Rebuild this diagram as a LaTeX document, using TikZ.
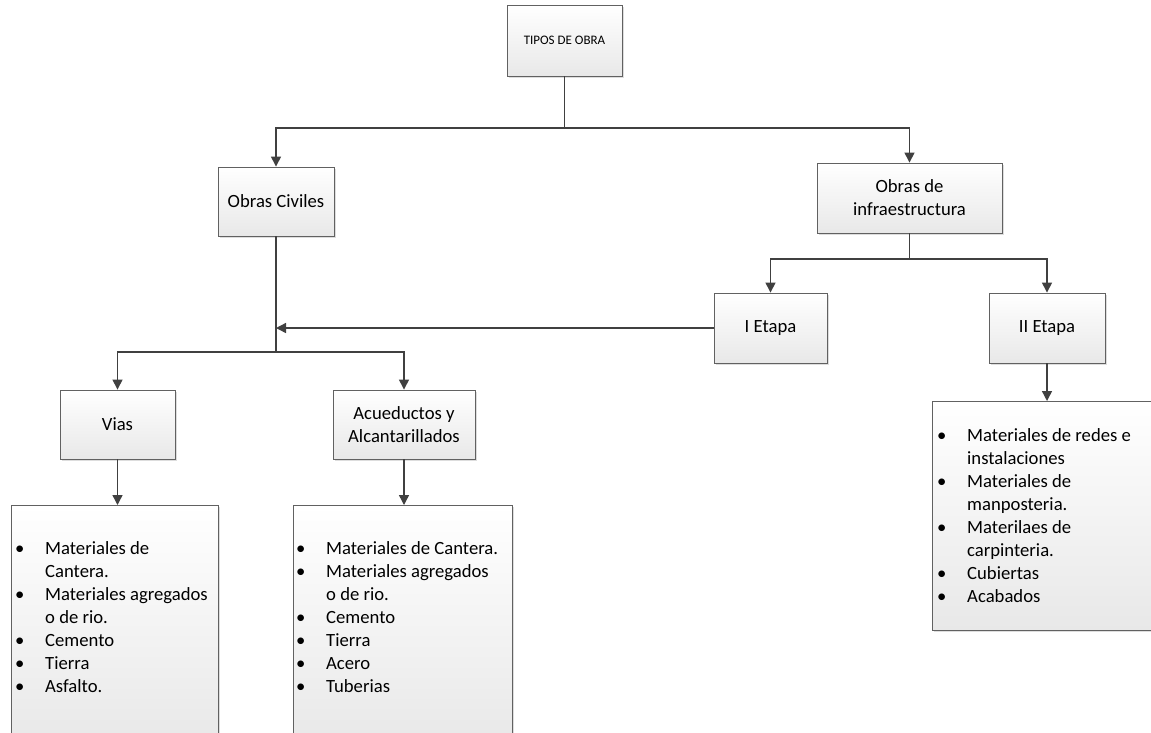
\documentclass[tikz,border=0pt]{standalone}
\usepackage{fontspec}
\setmainfont{Carlito}
\usetikzlibrary{arrows.meta,shadows}

% list helpers: bullet line and continuation line
\newcommand\bitem[1]{\makebox[29pt][l]{\hspace*{-1pt}•}#1}
\newcommand\citem[1]{\hspace*{29pt}#1}

\tikzset{
  box/.style={draw=black!62, line width=0.9pt, top color=white, bottom color=black!9,
    drop shadow={shadow xshift=2pt, shadow yshift=-2pt, fill=black!22, opacity=0.6},
    inner sep=0pt, align=center,
    font=\fontsize{18.67}{23}\selectfont},
  listbox/.style={draw=black!62, line width=0.9pt, top color=white, bottom color=black!9,
    drop shadow={shadow xshift=2pt, shadow yshift=-2pt, fill=black!22, opacity=0.6}},
  listtext/.style={anchor=base west, inner sep=0pt,
    font=\fontsize{18.67}{23}\selectfont},
  link/.style={draw=black!75, line width=1.4pt},
  arr/.style={link, -{Triangle[length=10pt, width=10pt]}}
}

\begin{document}
\begin{tikzpicture}[x=1pt, y=-1pt]
\useasboundingbox (0,0) rectangle (1151,732);
\clip (0,0) rectangle (1151,732);
\fill[white] (0,0) rectangle (1151,732);

% main boxes
\node[box, minimum width=115pt, minimum height=71pt, font=\fontsize{13}{15}\selectfont]
  (top) at (564.5,40.5) {TIPOS DE OBRA};
\node[box, minimum width=116pt, minimum height=69pt] (civ) at (276,201.5) {Obras Civiles};
\node[box, minimum width=185pt, minimum height=70pt] (inf) at (909.5,198) {Obras de\\infraestructura};
\node[box, minimum width=113pt, minimum height=70pt] (e1) at (770.5,328) {I Etapa};
\node[box, minimum width=116pt, minimum height=70pt] (e2) at (1047,328) {II Etapa};
\node[box, minimum width=115pt, minimum height=69pt] (vias) at (117.5,424.5) {Vias};
\node[box, minimum width=142pt, minimum height=69pt] (acu) at (404,424.5) {Acueductos y\\Alcantarillados};

% list boxes (the lower ones run past the bottom edge, the right one past the right edge)
\path[listbox] (11,505) rectangle (218,745);
\coordinate (l1) at (114.5,505);
\path[listbox] (293,505) rectangle (512,745);
\coordinate (l2) at (402.5,505);
\path[listbox] (932,401) rectangle (1165,630);
\coordinate (l3) at (1047,401);

\node[listtext] (t1) at (16,554) {\begin{tabular}[t]{@{}l@{}}
  \bitem{Materiales de}\\
  \citem{Cantera.}\\
  \bitem{Materiales agregados}\\
  \citem{o de rio.}\\
  \bitem{Cemento}\\
  \bitem{Tierra}\\
  \bitem{Asfalto.}
\end{tabular}};

\node[listtext] (t2) at (297,554) {\begin{tabular}[t]{@{}l@{}}
  \bitem{Materiales de Cantera.}\\
  \bitem{Materiales agregados}\\
  \citem{o de rio.}\\
  \bitem{Cemento}\\
  \bitem{Tierra}\\
  \bitem{Acero}\\
  \bitem{Tuberias}
\end{tabular}};

\node[listtext] (t3) at (938,441) {\begin{tabular}[t]{@{}l@{}}
  \bitem{Materiales de redes e}\\
  \citem{instalaciones}\\
  \bitem{Materiales de}\\
  \citem{manposteria.}\\
  \bitem{Materilaes de}\\
  \citem{carpinteria.}\\
  \bitem{Cubiertas}\\
  \bitem{Acabados}
\end{tabular}};

% connectors
\coordinate (j1) at (564.5,128);
\coordinate (j2) at (276,352);
\coordinate (j3) at (909.5,259);
\draw[link] (top.south) -- (j1);
\draw[arr] (j1) -| (civ.north);
\draw[arr] (j1) -| (inf.north);
\draw[link] (inf.south) -- (j3);
\draw[arr] (j3) -| (e1.north);
\draw[arr] (j3) -| (e2.north);
\draw[link] (civ.south) -- (j2);
\draw[arr] (j2) -| (vias.north);
\draw[arr] (j2) -| (acu.north);
\draw[arr] (e1.west) -- (e1.west -| civ.south);
\draw[arr] (vias.south) -- (vias.south |- l1);
\draw[arr] (acu.south) -- (acu.south |- l2);
\draw[arr] (e2.south) -- (l3);
\end{tikzpicture}
\end{document}
